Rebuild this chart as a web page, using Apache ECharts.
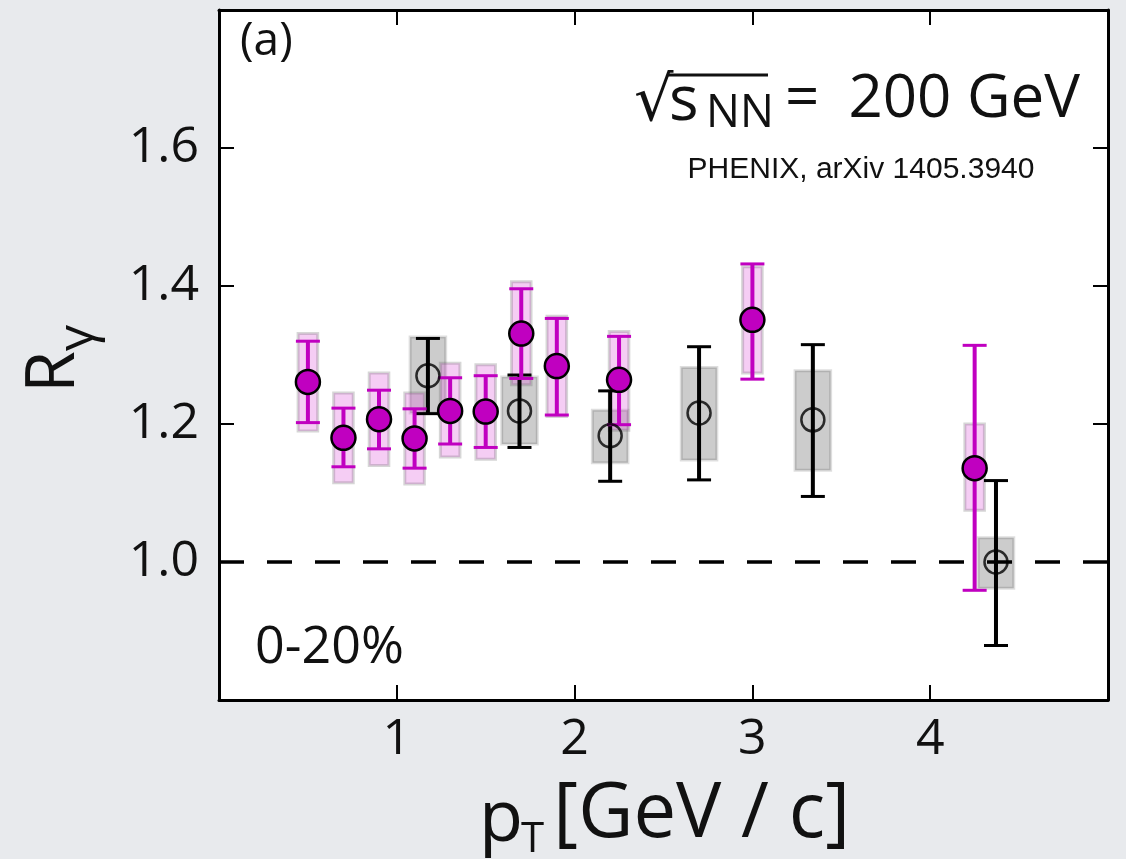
<!DOCTYPE html>
<html><head><meta charset="utf-8">
<script src="https://cdn.jsdelivr.net/npm/echarts@6/dist/echarts.min.js"></script>
<style>html,body{margin:0;padding:0;background:#e8eaed;} #c{width:1126px;height:859px;}</style>
</head><body><div id="c"></div>
<script>
// ---- data ----
const magX      = [0.5, 0.7, 0.9, 1.1, 1.3, 1.5, 1.7, 1.9, 2.25, 3.0, 4.25];
const magY      = [1.261, 1.180, 1.207, 1.179, 1.219, 1.218, 1.331, 1.284, 1.264, 1.351, 1.136];
const magStatLo = [1.202, 1.138, 1.164, 1.136, 1.171, 1.166, 1.266, 1.213, 1.199, 1.265, 0.959];
const magStatHi = [1.320, 1.223, 1.249, 1.222, 1.267, 1.270, 1.396, 1.353, 1.327, 1.432, 1.314];
const magSysLo  = [1.190, 1.115, 1.140, 1.113, 1.152, 1.149, 1.257, 1.211, 1.191, 1.274, 1.075];
const magSysHi  = [1.331, 1.245, 1.274, 1.245, 1.288, 1.286, 1.406, 1.356, 1.334, 1.428, 1.200];

const blkX      = [1.175, 1.69, 2.2, 2.7, 3.34, 4.37];
const blkY      = [1.270, 1.219, 1.183, 1.216, 1.206, 1.000];
const blkStatLo = [1.215, 1.166, 1.117, 1.119, 1.095, 0.879];
const blkStatHi = [1.324, 1.271, 1.248, 1.312, 1.315, 1.118];
const blkSysLo  = [1.216, 1.171, 1.144, 1.148, 1.133, 0.962];
const blkSysHi  = [1.326, 1.268, 1.220, 1.282, 1.277, 1.035];

const refLine = [[0, 1.0], [5, 1.0]];
const xTicks = [1, 2, 3, 4];
const yTicks = [1.0, 1.2, 1.4, 1.6];

// ---- styling ----
const MAG = '#c000c0';
const FONT = '"Open Sans", "Noto Sans", sans-serif';

function boxItem(wUnits, fill, stroke) {
  return function (params, api) {
    const x = api.value(0), lo = api.value(1), hi = api.value(2);
    const p1 = api.coord([x - wUnits / 2, hi]);
    const p2 = api.coord([x + wUnits / 2, lo]);
    return { type: 'rect',
      shape: { x: p1[0], y: p1[1], width: p2[0] - p1[0], height: p2[1] - p1[1] },
      style: { fill: fill, stroke: stroke, lineWidth: 3 } };
  };
}
function errItem(color, lw, capHalf) {
  return function (params, api) {
    const x = api.value(0), lo = api.value(1), hi = api.value(2);
    const a = api.coord([x, hi]), b = api.coord([x, lo]);
    return { type: 'group', children: [
      { type: 'line', shape: { x1: a[0], y1: a[1], x2: b[0], y2: b[1] }, style: { stroke: color, lineWidth: lw } },
      { type: 'line', shape: { x1: a[0] - capHalf, y1: a[1], x2: a[0] + capHalf, y2: a[1] }, style: { stroke: color, lineWidth: 3 } },
      { type: 'line', shape: { x1: b[0] - capHalf, y1: b[1], x2: b[0] + capHalf, y2: b[1] }, style: { stroke: color, lineWidth: 3 } }
    ] };
  };
}
const zip3 = (xs, a, b) => xs.map((x, i) => [x, a[i], b[i]]);
const zip2 = (xs, a) => xs.map((x, i) => [x, a[i]]);

const axisCommon = {
  axisLine: { show: true, onZero: false, lineStyle: { color: '#000', width: 3 } },
  axisTick: { show: true, inside: true, length: 15, lineStyle: { color: '#000', width: 2 } },
  splitLine: { show: false }
};

const chart = echarts.init(document.getElementById('c'), null, { renderer: 'canvas' });
chart.setOption({
  animation: false,
  backgroundColor: 'transparent',
  grid: { left: 219, top: 10, right: 18, bottom: 159, show: true, backgroundColor: '#fff', borderWidth: 0 },
  xAxis: [
    Object.assign({ type: 'value', min: 0, max: 5, interval: 1, position: 'bottom',
      axisLabel: { show: true, margin: 15, fontSize: 50, fontFamily: FONT, color: '#111',
        formatter: v => xTicks.indexOf(v) >= 0 ? String(v) : '' } }, axisCommon),
    Object.assign({ type: 'value', min: 0, max: 5, interval: 1, position: 'top',
      axisLabel: { show: false } }, axisCommon)
  ],
  yAxis: [
    Object.assign({ type: 'value', min: 0.8, max: 1.8, interval: 0.2, position: 'left',
      axisLabel: { show: true, margin: 20, fontSize: 50, fontFamily: FONT, color: '#111',
        formatter: v => yTicks.some(t => Math.abs(t - v) < 1e-6) ? v.toFixed(1) : '' } }, axisCommon),
    Object.assign({ type: 'value', min: 0.8, max: 1.8, interval: 0.2, position: 'right',
      axisLabel: { show: false } }, axisCommon)
  ],
  series: [
    { type: 'line', data: refLine, symbol: 'none', z: 1, silent: true,
      lineStyle: { color: '#000', width: 3.5, type: [25, 23] } },
    { type: 'custom', renderItem: boxItem(0.2, 'rgba(0,0,0,0.2)', 'rgba(0,0,0,0.13)'),
      data: zip3(blkX, blkSysLo, blkSysHi), z: 2, encode: { x: 0, y: [1, 2] } },
    { type: 'custom', renderItem: boxItem(0.11, 'rgba(225,100,220,0.32)', 'rgba(90,90,90,0.25)'),
      data: zip3(magX, magSysLo, magSysHi), z: 3, encode: { x: 0, y: [1, 2] } },
    { type: 'custom', renderItem: errItem('#000', 4, 12),
      data: zip3(blkX, blkStatLo, blkStatHi), z: 4, encode: { x: 0, y: [1, 2] } },
    { type: 'custom', renderItem: errItem(MAG, 4, 12),
      data: zip3(magX, magStatLo, magStatHi), z: 5, encode: { x: 0, y: [1, 2] } },
    { type: 'scatter', data: zip2(blkX, blkY), symbol: 'circle', symbolSize: 23, z: 6,
      itemStyle: { color: 'rgba(255,255,255,0)', borderColor: '#000', borderWidth: 2.5 } },
    { type: 'scatter', data: zip2(magX, magY), symbol: 'circle', symbolSize: 24, z: 7,
      itemStyle: { color: MAG, borderColor: '#000', borderWidth: 2.5, opacity: 1 } }
  ],
  graphic: [
    { type: 'text', z: 100, style: { text: '(a)', x: 240, y: 42, font: '46px ' + FONT, fill: '#111', textVerticalAlign: 'middle' } },
    { type: 'text', z: 100, style: { text: '0-20%', x: 255, y: 648, font: '52px ' + FONT, fill: '#111', textVerticalAlign: 'middle' } },
    { type: 'text', z: 100, style: { text: '√', x: 634, y: 104, font: '62px "DejaVu Sans"', fill: '#111', textVerticalAlign: 'middle' } },
    { type: 'line', z: 100, shape: { x1: 668, y1: 75, x2: 768, y2: 75 }, style: { stroke: '#111', lineWidth: 3 } },
    { type: 'text', z: 100, style: { text: 's', x: 669, y: 102, font: '62px ' + FONT, fill: '#111', textVerticalAlign: 'middle' } },
    { type: 'text', z: 100, style: { text: 'NN', x: 706, y: 114, font: '45px ' + FONT, fill: '#111', textVerticalAlign: 'middle' } },
    { type: 'text', z: 100, style: { text: '=', x: 785, y: 100, font: '60px ' + FONT, fill: '#111', textVerticalAlign: 'middle' } },
    { type: 'text', z: 100, style: { text: '200 GeV', x: 1080, y: 100, font: '60px ' + FONT, fill: '#111', textAlign: 'right', textVerticalAlign: 'middle' } },
    { type: 'text', z: 100, style: { text: 'PHENIX, arXiv 1405.3940', x: 861, y: 170, font: '30px "Liberation Sans", Arial, sans-serif', fill: '#111', textAlign: 'center', textVerticalAlign: 'middle' } },
    { type: 'text', z: 100, style: { text: 'p', x: 479, y: 820, font: '72px ' + FONT, fill: '#111', textVerticalAlign: 'middle' } },
    { type: 'text', z: 100, style: { text: 'T', x: 521, y: 840, font: '42px ' + FONT, fill: '#111', textVerticalAlign: 'middle' } },
    { type: 'text', z: 100, style: { text: '[GeV / c]', x: 850, y: 815, font: '76px ' + FONT, fill: '#111', textAlign: 'right', textVerticalAlign: 'middle' } },
    { type: 'text', z: 100, x: 55, y: 372, rotation: Math.PI / 2, style: { text: 'R', x: 0, y: 0, font: '68px ' + FONT, fill: '#111', textAlign: 'center', textVerticalAlign: 'middle' } },
    { type: 'text', z: 100, x: 78, y: 338, rotation: Math.PI / 2, style: { text: 'γ', x: 0, y: 0, font: '52px ' + FONT, fill: '#111', textAlign: 'center', textVerticalAlign: 'middle' } }
  ]
});
</script>
</body></html>
